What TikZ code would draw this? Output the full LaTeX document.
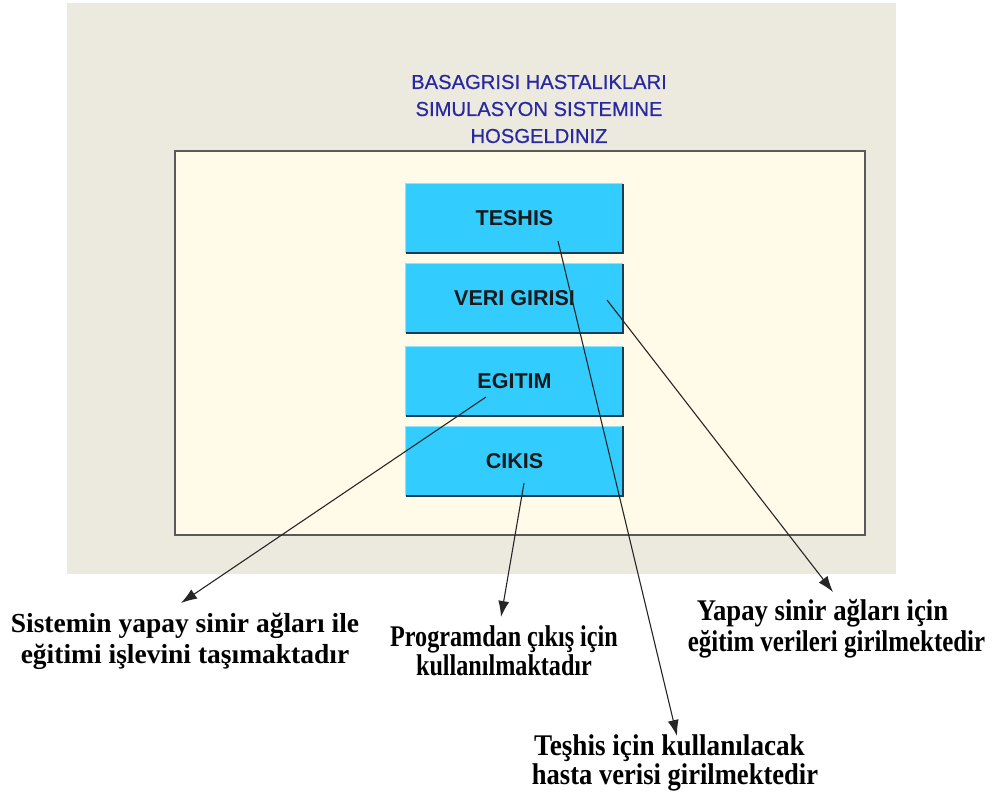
\documentclass[tikz,border=0pt]{standalone}
\usepackage{fontspec}
\setmainfont{Liberation Serif}
\newfontfamily\uisans{Liberation Sans}
\newfontfamily\titlesans[FakeBold=0.5]{Liberation Sans}
\usetikzlibrary{arrows.meta}
\definecolor{panelgray}{RGB}{236,233,223}
\definecolor{panelcream}{RGB}{255,251,232}
\definecolor{titleblue}{RGB}{40,40,160}
\definecolor{btncyan}{RGB}{51,204,255}
\definecolor{btnlight}{RGB}{140,228,255}
\definecolor{btnshade}{RGB}{25,60,80}
% horizontally condensed line of text
\newcommand{\narrow}[2]{\scalebox{#1}[1]{#2}}
\begin{document}
\begin{tikzpicture}[x=1pt,y=-1pt,
  btn/.style={fill=btncyan, minimum width=217pt, minimum height=69pt, inner sep=0pt,
    font=\uisans\bfseries\fontsize{21.5}{24}\selectfont, text=black!90},
  note/.style={align=center, inner sep=0pt, font=\bfseries\fontsize{30}{29}\selectfont},
  pointer/.style={draw=black!85, line width=1.1pt, -{Latex[length=16pt,width=11pt]}}
]
\useasboundingbox[fill=white] (0,0) rectangle (995,796);

% window background and client panel
\fill[panelgray] (67,3) rectangle (896,574);
\draw[fill=panelcream, draw=black!65, line width=1.8pt] (175,151) rectangle (865,535);

% welcome title
\node[name=title, align=center, text=titleblue, inner sep=0pt,
  font=\titlesans\fontsize{20.2}{27}\selectfont] at (539,109)
  {BASAGRISI HASTALIKLARI\\SIMULASYON SISTEMINE\\HOSGELDINIZ};

% menu buttons
\node[btn] (teshis) at (514.5,218.5) {TESHIS};
\node[btn] (veri)   at (514.5,298.5) {VERI GIRISI};
\node[btn] (egitim) at (514.5,381.5) {EGITIM};
\node[btn] (cikis)  at (514.5,461)   {CIKIS};
\foreach \b in {teshis,veri,egitim,cikis}{
  \draw[btnlight, line width=1pt] (\b.south west) -- (\b.north west) -- (\b.north east);
  \draw[btnshade, line width=2pt] (\b.south west) -- (\b.south east) -- (\b.north east);
}

% explanations
\node[note, font=\bfseries\fontsize{27.5}{31}\selectfont] (n1) at (185,641)
  {Sistemin yapay sinir ağları ile\\eğitimi işlevini taşımaktadır};
\node[note] (n2) at (504,651)
  {\narrow{0.805}{Programdan çıkış için}\\\narrow{0.805}{kullanılmaktadır}};
\node[note, font=\bfseries\fontsize{30}{31}\selectfont] (n3) at (836.5,629)
  {\hspace*{-28pt}\narrow{0.89}{Yapay sinir ağları için}\\\narrow{0.83}{eğitim verileri girilmektedir}};
\node[note] (n4) at (675,763)
  {\hspace*{-11pt}\narrow{0.905}{Teşhis için kullanılacak}\\\narrow{0.885}{hasta verisi girilmektedir}};

% arrow tips just above each explanation
\coordinate (tip1) at (181,603);
\coordinate (tip2) at (501,617);
\coordinate (tip3) at (833,592);
\coordinate (tip4) at (677,736);

% pointers from the buttons
\draw[pointer] ([xshift=-28.5pt,yshift=-15.5pt]egitim.center) -- (tip1);
\draw[pointer] ([xshift=9.5pt,yshift=-22pt]cikis.center) -- (tip2);
\draw[pointer] ([xshift=92.5pt,yshift=-1.5pt]veri.center) -- (tip3);
\draw[pointer] ([xshift=43.5pt,yshift=-22.5pt]teshis.center) -- (tip4);
\end{tikzpicture}
\end{document}
